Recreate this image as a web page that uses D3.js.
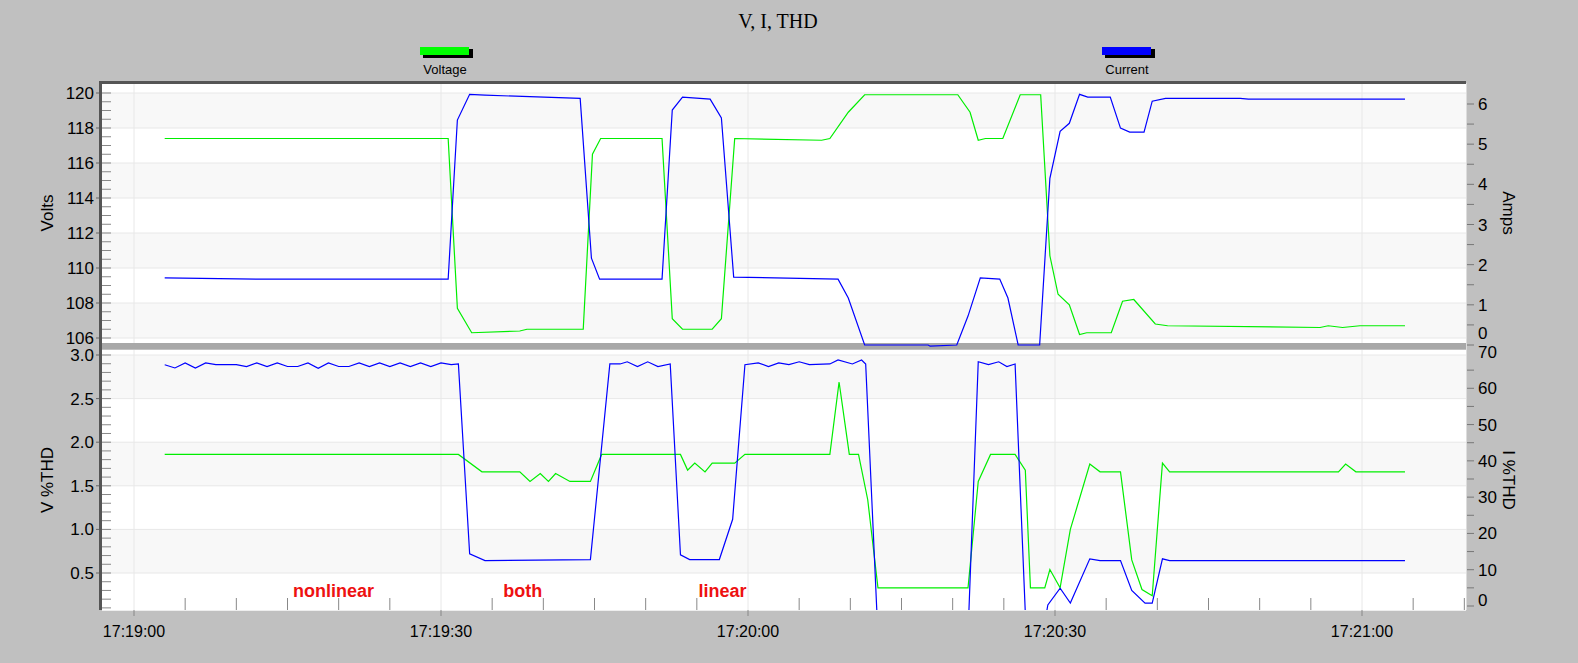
<!DOCTYPE html><html><head><meta charset="utf-8">
<script src="https://cdn.jsdelivr.net/npm/d3@7"></script>
<style>body{margin:0;background:#c0c0c0}</style></head><body>
<svg id="c" width="1578" height="663"></svg>
<script>
// times are seconds after 17:19:00
const voltage=[[3,117.4],[30.7,117.4],[31.6,107.7],[33.0,106.3],[37.7,106.4],[38.4,106.5],[43.9,106.5],[44.8,116.5],[45.6,117.4],[51.6,117.4],[52.6,107.1],[53.6,106.5],[56.5,106.5],[57.4,107.1],[58.7,117.4],[67.2,117.3],[68.0,117.4],[69.8,118.9],[71.4,119.9],[80.5,119.9],[81.7,118.9],[82.5,117.3],[83.2,117.4],[84.9,117.4],[86.6,119.9],[88.6,119.9],[89.5,110.7],[90.3,108.5],[91.4,107.9],[92.4,106.2],[93.1,106.3],[95.5,106.3],[96.6,108.1],[97.7,108.2],[99.8,106.8],[101.0,106.7],[115.9,106.6],[116.7,106.7],[118.1,106.6],[119.8,106.7],[124.2,106.7]];
const current=[[3,1.67],[12.5,1.64],[30.7,1.64],[31.6,5.6],[32.8,6.24],[34.3,6.22],[43.6,6.14],[44.7,2.16],[45.5,1.64],[51.6,1.64],[52.6,5.85],[53.6,6.17],[56.3,6.12],[57.4,5.65],[58.6,1.69],[68.8,1.64],[69.8,1.17],[71.4,0.0],[77.6,0.0],[77.8,-0.03],[80.4,0.0],[81.5,0.72],[82.7,1.67],[84.6,1.64],[85.4,1.17],[86.4,0.0],[88.5,0.0],[89.5,4.15],[90.5,5.32],[91.4,5.52],[92.4,6.24],[93.2,6.17],[95.4,6.17],[96.4,5.4],[97.3,5.3],[98.7,5.3],[99.5,6.07],[100.8,6.14],[108.1,6.14],[108.9,6.12],[124.2,6.12]];
const vthd=[[3,1.86],[31.7,1.86],[34.0,1.66],[37.7,1.66],[38.7,1.55],[39.7,1.64],[40.5,1.55],[41.2,1.64],[42.6,1.55],[44.6,1.55],[45.7,1.86],[53.4,1.86],[54.1,1.68],[54.8,1.76],[55.8,1.66],[56.5,1.76],[58.7,1.76],[59.7,1.86],[68.0,1.86],[68.9,2.69],[69.9,1.86],[70.8,1.86],[71.7,1.34],[72.7,0.33],[81.5,0.33],[82.5,1.55],[83.7,1.86],[86.1,1.86],[87.1,1.68],[87.6,0.33],[89.0,0.33],[89.5,0.54],[90.5,0.33],[91.5,1.0],[93.4,1.75],[94.4,1.66],[96.4,1.66],[97.5,0.65],[98.5,0.31],[99.5,0.24],[100.5,1.76],[101.2,1.66],[117.7,1.66],[118.4,1.75],[119.4,1.66],[124.2,1.66]];
const ithdNonlin=[66.5,65.6,67,65.6,67,66.5,66.5,66.5,66,67,66,67,66,66,67,65.5,67,66,66,67,66,67,66,67,66,67,66,67,66.5];
const ithdRest=[[31.7,66.7],[32.8,14.4],[34.3,12.5],[44.6,12.8],[46.5,66.7],[47.5,66.7],[48.2,67.3],[49.2,66],[50.2,67.3],[51.2,66],[52.4,66.7],[53.4,14.1],[54.3,12.8],[57.2,12.8],[58.5,23.9],[59.7,66.5],[61,67],[62,66],[63,67],[64,66.5],[65,67.3],[66,66.5],[68.0,66.7],[68.8,67.8],[70.2,66.7],[71.1,67.8],[71.5,66.7],[72.6,-2],[81.5,-8],[82.5,67.3],[83.5,66.5],[84.5,67.3],[85.3,66],[86.1,66.7],[87.1,-2],[89.1,-3],[89.3,0.3],[90.5,4.9],[91.5,0.8],[93.4,13.0],[94.4,12.5],[96.4,12.5],[97.5,4.3],[98.8,0.8],[99.5,0.8],[100.5,13.0],[101.2,12.5],[124.2,12.5]];
const ithd=ithdNonlin.map((v,i)=>[3+i,v]).concat(ithdRest);
const timeTicks=[0,30,60,90,120];
const timeLabels=["17:19:00","17:19:30","17:20:00","17:20:30","17:21:00"];
const voltTicks=[106,108,110,112,114,116,118,120];
const ampTicks=[0,1,2,3,4,5,6];
const vthdTicks=[0.5,1.0,1.5,2.0,2.5,3.0];
const ithdTicks=[0,10,20,30,40,50,60,70];
const notes=[["nonlinear",19.5],["both",38],["linear",57.5]];

const svg=d3.select("#c");
const L=102,R=1466;
const x=d3.scaleLinear().domain([0,30]).range([134,441]);
const T={top:83,bot:343}, B={top:350,bot:610};
const yV=d3.scaleLinear().domain([106,120]).range([338,93]);
const yA=d3.scaleLinear().domain([0,6]).range([345,104]);
const yT=d3.scaleLinear().domain([0.5,3.0]).range([573,355]);
const yI=d3.scaleLinear().domain([0,70]).range([606,352]);

svg.append("text").attr("x",778).attr("y",28).attr("text-anchor","middle").attr("font-family","Liberation Serif").attr("font-size",20).text("V, I, THD");
[["Voltage","#00ff00",420],["Current","#0000ff",1102]].forEach(([t,c,lx])=>{
 svg.append("rect").attr("x",lx+3).attr("y",49).attr("width",50).attr("height",9).attr("fill","#000");
 svg.append("rect").attr("x",lx).attr("y",47).attr("width",49).attr("height",8).attr("fill",c);
 svg.append("text").attr("x",lx+25).attr("y",74).attr("text-anchor","middle").attr("font-family","Liberation Sans").attr("font-size",13).text(t);
});
function panel(P,yl,yr,lt,rt,minorL,fmtL,labL,labR,series,clipExtra){
 const g=svg.append("g");
 g.append("rect").attr("x",L).attr("y",P.top).attr("width",R-L).attr("height",P.bot-P.top).attr("fill","#fff");
 for(let i=0;i<lt.length;i++){const a=lt[i],b=lt[i+1];if(b===undefined)break;if(i%2==0){
   const y1=Math.max(P.top,yl(b)),y2=Math.min(P.bot,yl(a));g.append("rect").attr("x",L).attr("y",y1).attr("width",R-L).attr("height",y2-y1).attr("fill","#f8f8f8");}}
 lt.forEach(t=>{const yy=yl(t);if(yy>P.top&&yy<P.bot)g.append("line").attr("x1",L).attr("x2",R).attr("y1",yy).attr("y2",yy).attr("stroke","#e8e8e8")});
 timeTicks.forEach(t=>g.append("line").attr("x1",x(t)).attr("x2",x(t)).attr("y1",P.top).attr("y2",P.bot).attr("stroke","#e8e8e8"));
 const d=yl.domain();for(let v=d[0]-minorL*10;v<=d[1]+minorL*2;v+=minorL){const yy=yl(v);if(yy>P.top+2&&yy<P.bot-1)g.append("line").attr("x1",L).attr("x2",L+9).attr("y1",yy).attr("y2",yy).attr("stroke","#888");}
 lt.forEach(t=>{const yy=yl(t);g.append("line").attr("x1",L-6).attr("x2",L).attr("y1",yy).attr("y2",yy).attr("stroke","#666");
   g.append("text").attr("x",L-8).attr("y",yy+6).attr("text-anchor","end").attr("font-family","Liberation Sans").attr("font-size",17).text(fmtL(t));});
 const rd=yr.domain(),rs=(rt[1]-rt[0])/2;for(let v=rd[0]-rs;v<=rd[1]+rs;v+=rs){const yy=yr(v);if(yy>P.top+2&&yy<P.bot+3)g.append("line").attr("x1",R).attr("x2",R+8).attr("y1",yy).attr("y2",yy).attr("stroke","#777");}
 rt.forEach(t=>{const yy=Math.min(yr(t),P.bot-10);g.append("text").attr("x",R+12).attr("y",yy+6).attr("font-family","Liberation Sans").attr("font-size",17).text(t);});
 g.append("text").attr("transform",`translate(53,${(P.top+P.bot)/2}) rotate(-90)`).attr("text-anchor","middle").attr("font-family","Liberation Sans").attr("font-size",17).text(labL);
 g.append("text").attr("transform",`translate(1503,${(P.top+P.bot)/2}) rotate(90)`).attr("text-anchor","middle").attr("font-family","Liberation Sans").attr("font-size",17).text(labR);
 const id="cl"+P.top;
 svg.append("clipPath").attr("id",id).append("rect").attr("x",L).attr("y",P.top).attr("width",R-L).attr("height",P.bot-P.top+clipExtra);
 return [g,series,id];
}
const p1=panel(T,yV,yA,voltTicks,ampTicks,0.5,d=>d,"Volts","Amps",[[voltage,yV,"#00ee00"],[current,yA,"#0000ff"]],4);
const p2=panel(B,yT,yI,vthdTicks,ithdTicks,0.1,d=>d.toFixed(1),"V %THD","I %THD",[[vthd,yT,"#00ee00"],[ithd,yI,"#0000ff"]],0);
svg.append("rect").attr("x",L).attr("y",T.bot).attr("width",R-L).attr("height",B.top-T.bot-1).attr("fill","#a8a8a8");
[p1,p2].forEach(([g,series,id])=>series.forEach(([data,ys,c])=>svg.append("path").attr("clip-path",`url(#${id})`).attr("d",d3.line().x(p=>x(p[0])).y(p=>ys(p[1]))(data)).attr("fill","none").attr("stroke",c).attr("stroke-width",1.2)));
svg.append("rect").attr("x",L-1).attr("y",T.top-2).attr("width",R-L+1).attr("height",3).attr("fill","#555");
svg.append("rect").attr("x",L-3).attr("y",T.top-2).attr("width",3).attr("height",B.bot-T.top+2).attr("fill","#555");
svg.append("line").attr("x1",L).attr("x2",R).attr("y1",B.bot+0.5).attr("y2",B.bot+0.5).attr("stroke","#eee");
svg.append("line").attr("x1",R+0.5).attr("x2",R+0.5).attr("y1",T.top).attr("y2",B.bot).attr("stroke","#ddd");
for(let t=-5;t<=130;t+=5){const xx=x(t);if(xx<L||xx>R)continue;
 svg.append("line").attr("x1",xx).attr("x2",xx).attr("y1",B.bot-(t%30==0?0:12)).attr("y2",B.bot+(t%30==0?6:0)).attr("stroke","#888");}
timeTicks.forEach((t,i)=>svg.append("text").attr("x",x(t)).attr("y",637).attr("text-anchor","middle").attr("font-family","Liberation Sans").attr("font-size",16).text(timeLabels[i]));
notes.forEach(([t,s])=>svg.append("text").attr("x",x(s)).attr("y",597).attr("text-anchor","middle").attr("fill","#ee1111").attr("font-family","Liberation Sans").attr("font-weight","bold").attr("font-size",18).text(t));
</script></body></html>
